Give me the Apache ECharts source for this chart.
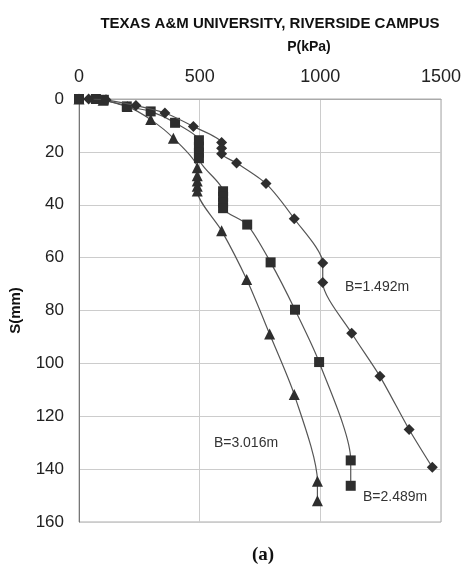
<!DOCTYPE html>
<html>
<head>
<meta charset="utf-8">
<script src="https://cdn.jsdelivr.net/npm/echarts@6/dist/echarts.min.js"></script>
<style>html,body{margin:0;padding:0;background:#fff;}#c{width:464px;height:567px;}</style>
</head>
<body>
<div id="c"></div>
<script>
var xTicks = [0, 500, 1000, 1500];
var yTicks = [0, 20, 40, 60, 80, 100, 120, 140, 160];

var seriesNames = ['B=1.492m', 'B=2.489m', 'B=3.016m'];

var pDiamond = [40, 112, 236, 356, 474, 591, 591, 591, 653, 775, 892, 1010, 1010, 1130, 1247, 1368, 1464];
var sDiamond = [0, 0.3, 2.5, 5.3, 10.4, 16.5, 18.6, 20.7, 24.2, 32, 45.3, 62, 69.4, 88.6, 104.9, 125, 139.3];

var pSquare = [0, 70, 103, 198, 297, 398, 497, 497, 497, 497, 597, 597, 597, 597, 697, 794, 895, 995, 1126, 1126];
var sSquare = [0, 0, 0.3, 2.8, 4.7, 9, 15.6, 18, 20.3, 22.4, 34.9, 37, 39.2, 41.3, 47.5, 61.8, 79.7, 99.5, 136.7, 146.3];

var pTriangle = [0, 100, 200, 297, 391, 490, 490, 490, 490, 490, 591, 695, 790, 892, 988, 988];
var sTriangle = [0, 0.5, 2.8, 7.8, 14.8, 26, 29, 31, 33, 34.8, 49.8, 68.3, 88.9, 111.8, 144.6, 152];

// label anchor positions in data units (P, S)
var labelP = [1235, 1310, 692];
var labelS = [71, 150.7, 130];

function pairs(px, sy) { return px.map(function (v, i) { return [v, sy[i]]; }); }

var markerColor = '#2e2e2e';
var lineColor = '#555';

function mkSeries(idx, sym, size, px, sy) {
  return {
    name: seriesNames[idx],
    type: 'line',
    data: pairs(px, sy),
    symbol: sym,
    symbolSize: size,
    smooth: 0.25,
    lineStyle: { color: lineColor, width: 1.2 },
    itemStyle: { color: markerColor },
    z: 3 - idx,
    markPoint: {
      symbol: 'circle',
      symbolSize: 1,
      itemStyle: { color: 'rgba(0,0,0,0)' },
      data: [{ coord: [labelP[idx], labelS[idx]], value: seriesNames[idx] }],
      label: {
        show: true, formatter: seriesNames[idx], position: 'inside',
        fontFamily: 'Liberation Sans, Arial, sans-serif', fontSize: 14, color: '#333'
      }
    }
  };
}

var chart = echarts.init(document.getElementById('c'), null, { renderer: 'canvas' });
chart.setOption({
  animation: false,
  backgroundColor: '#fff',
  title: [
    { text: 'TEXAS A&M UNIVERSITY, RIVERSIDE CAMPUS', left: 265, top: 11, textAlign: 'center',
      textStyle: { fontFamily: 'Liberation Sans, Arial, sans-serif', fontWeight: 'bold', fontSize: 15, color: '#111' } },
    { text: 'P(kPa)', left: 304, top: 35, textAlign: 'center',
      textStyle: { fontFamily: 'Liberation Sans, Arial, sans-serif', fontWeight: 'bold', fontSize: 14, color: '#111' } },
    { text: '(a)', left: 258, top: 541, textAlign: 'center',
      textStyle: { fontFamily: 'Liberation Serif, Times New Roman, serif', fontWeight: 'bold', fontSize: 19, color: '#111' } }
  ],
  grid: { left: 79, top: 99, right: 23, bottom: 45, show: true, borderColor: '#aaa', borderWidth: 1, containLabel: false },
  xAxis: {
    type: 'value', position: 'top', min: xTicks[0], max: xTicks[xTicks.length - 1], interval: 500,
    axisLine: { show: true, lineStyle: { color: '#aaa' } },
    axisTick: { show: false },
    axisLabel: { fontFamily: 'Liberation Sans, Arial, sans-serif', fontSize: 18, color: '#222', margin: 13,
      formatter: function (v) { return String(v); } },
    splitLine: { show: true, lineStyle: { color: '#ccc', width: 1 } }
  },
  yAxis: {
    type: 'value', inverse: true, min: yTicks[0], max: yTicks[yTicks.length - 1], interval: 20,
    name: 'S(mm)', nameLocation: 'middle', nameGap: 56, nameRotate: 90,
    nameTextStyle: { fontFamily: 'Liberation Sans, Arial, sans-serif', fontWeight: 'bold', fontSize: 15, color: '#111' },
    axisLine: { show: true, lineStyle: { color: '#777' } },
    axisTick: { show: false },
    axisLabel: { fontFamily: 'Liberation Sans, Arial, sans-serif', fontSize: 17, color: '#222', margin: 15,
      formatter: function (v) { return String(v); } },
    splitLine: { show: true, lineStyle: { color: '#ccc', width: 1 } }
  },
  series: [
    mkSeries(0, 'diamond', 11, pDiamond, sDiamond),
    mkSeries(1, 'rect', 10, pSquare, sSquare),
    mkSeries(2, 'triangle', 11, pTriangle, sTriangle)
  ]
});
</script>
</body>
</html>
